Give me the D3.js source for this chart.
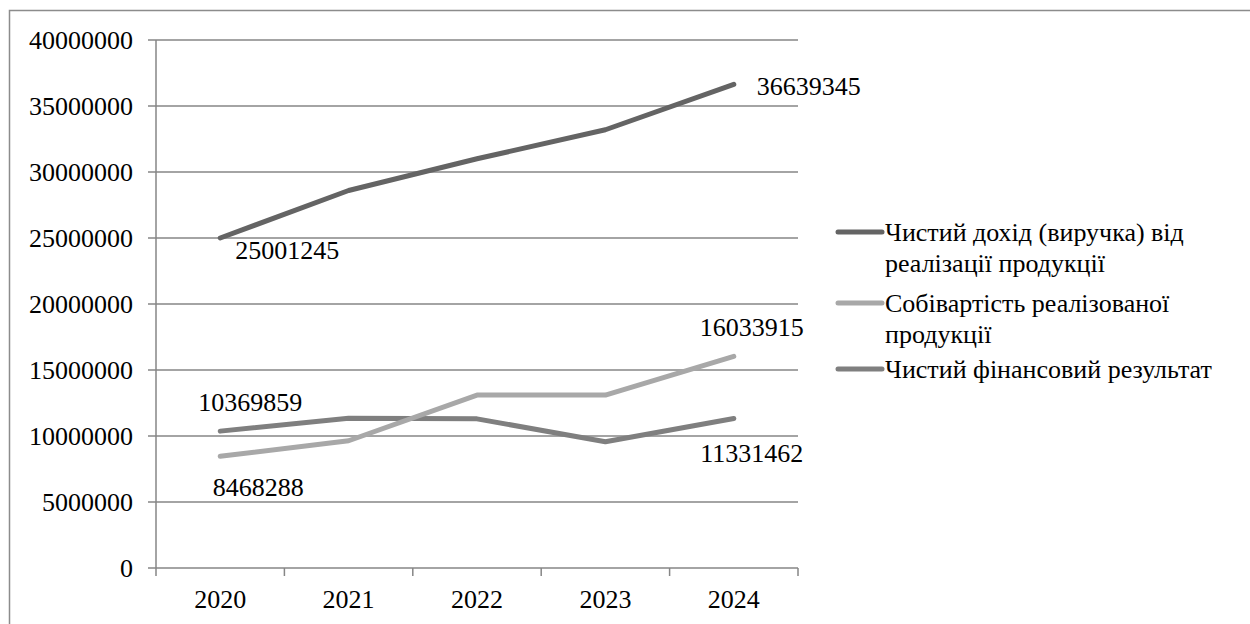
<!DOCTYPE html>
<html>
<head>
<meta charset="utf-8">
<script src="https://cdn.jsdelivr.net/npm/d3@7"></script>
</head>
<body style="margin:0">
<script>
// ----- Data -----
const years = ["2020", "2021", "2022", "2023", "2024"];
const revenue = [25001245, 28600000, 31000000, 33200000, 36639345];
const cost = [8468288, 9640000, 13100000, 13100000, 16033915];
const netResult = [10369859, 11340000, 11300000, 9570000, 11331462];
const seriesNames = [
  ["Чистий дохід (виручка) від", "реалізації продукції"],
  ["Собівартість реалізованої", "продукції"],
  ["Чистий фінансовий результат"]
];
const yTicks = [0, 5000000, 10000000, 15000000, 20000000, 25000000, 30000000, 35000000, 40000000];

const gridColor = "#868686";
// text is set at 30px and scaled down to ~26px
const textScale = 26 / 30;

const svg = d3.select("body").append("svg")
  .attr("width", 1250)
  .attr("height", 624);

// every label gets the same serif font, positioned by transform
function placeText(sel, px, py) {
  sel.style("font-family", "'Liberation Serif'")
    .style("font-size", "30px")
    .attr("transform", (d, i) => "translate(" + px(d, i) + "," + py(d, i) + ") scale(" + textScale + ")");
}

// outer frame (right and bottom edges fall outside the picture)
svg.append("rect")
  .attr("x", 9.5).attr("y", 10.5)
  .attr("width", 1300).attr("height", 700)
  .attr("fill", "none")
  .attr("stroke", "#8c8c8c")
  .attr("stroke-width", 1.5);

// X Axis
const x = d3.scaleBand().domain(years).range([156, 798]);
const cx = d => x(d) + x.bandwidth() / 2;

// Y Axis
const y = d3.scaleLinear().domain([0, 40000000]).range([568, 40]);

// gridlines
svg.append("g")
  .selectAll("line")
  .data(yTicks)
  .join("line")
  .attr("x1", 148).attr("x2", 798)
  .attr("y1", d => y(d)).attr("y2", d => y(d))
  .attr("stroke", gridColor)
  .attr("stroke-width", 1.5);

// y axis line
svg.append("line")
  .attr("x1", 156).attr("x2", 156)
  .attr("y1", y(40000000)).attr("y2", y(0))
  .attr("stroke", gridColor)
  .attr("stroke-width", 1.5);

// x tick marks at band edges
const edges = years.map(d => x(d)).concat([x.range()[1]]);
svg.append("g")
  .selectAll("line")
  .data(edges)
  .join("line")
  .attr("x1", d => d).attr("x2", d => d)
  .attr("y1", y(0)).attr("y2", y(0) + 8)
  .attr("stroke", gridColor)
  .attr("stroke-width", 1.5);

// y tick labels
svg.append("g")
  .selectAll("text")
  .data(yTicks)
  .join("text")
  .attr("text-anchor", "end")
  .call(placeText, () => 133, d => y(d) + 9)
  .text(d => d);

// x tick labels
svg.append("g")
  .selectAll("text")
  .data(years)
  .join("text")
  .attr("text-anchor", "middle")
  .call(placeText, d => cx(d), () => 608)
  .text(d => d);

// ----- Series lines -----
const series = [
  { values: revenue, color: "#646464" },
  { values: cost, color: "#a8a8a8" },
  { values: netResult, color: "#7f7f7f" }
];

const line = d3.line()
  .x((d, i) => cx(years[i]))
  .y(d => y(d));

// net result first, then cost, then revenue on top
[2, 1, 0].forEach(k => {
  svg.append("path")
    .datum(series[k].values)
    .attr("d", line)
    .attr("fill", "none")
    .attr("stroke", series[k].color)
    .attr("stroke-width", 5)
    .attr("stroke-linecap", "round")
    .attr("stroke-linejoin", "round");
});

// ----- Data labels (first and last points) -----
const labels = [
  { v: revenue, i: 0, dx: 67, dy: 12 },
  { v: revenue, i: 4, dx: 75, dy: 2 },
  { v: cost, i: 0, dx: 38, dy: 31 },
  { v: cost, i: 4, dx: 18, dy: -29 },
  { v: netResult, i: 0, dx: 30, dy: -29 },
  { v: netResult, i: 4, dx: 18, dy: 35 }
];

svg.append("g")
  .selectAll("text")
  .data(labels)
  .join("text")
  .attr("text-anchor", "middle")
  .call(placeText, d => cx(years[d.i]) + d.dx, d => y(d.v[d.i]) + d.dy + 9)
  .text(d => d.v[d.i]);

// ----- Legend -----
const legendRows = [232, 303, 369];
const legend = svg.append("g");

seriesNames.forEach((name, k) => {
  const ly = legendRows[k];
  legend.append("line")
    .attr("x1", 838).attr("x2", 882)
    .attr("y1", ly).attr("y2", ly)
    .attr("stroke", series[k].color)
    .attr("stroke-width", 5)
    .attr("stroke-linecap", "round");

  legend.append("g")
    .selectAll("text")
    .data(name)
    .join("text")
    .call(placeText, () => 885, (d, j) => ly + j * 31 + 9)
    .text(d => d);
});
</script>
</body>
</html>
